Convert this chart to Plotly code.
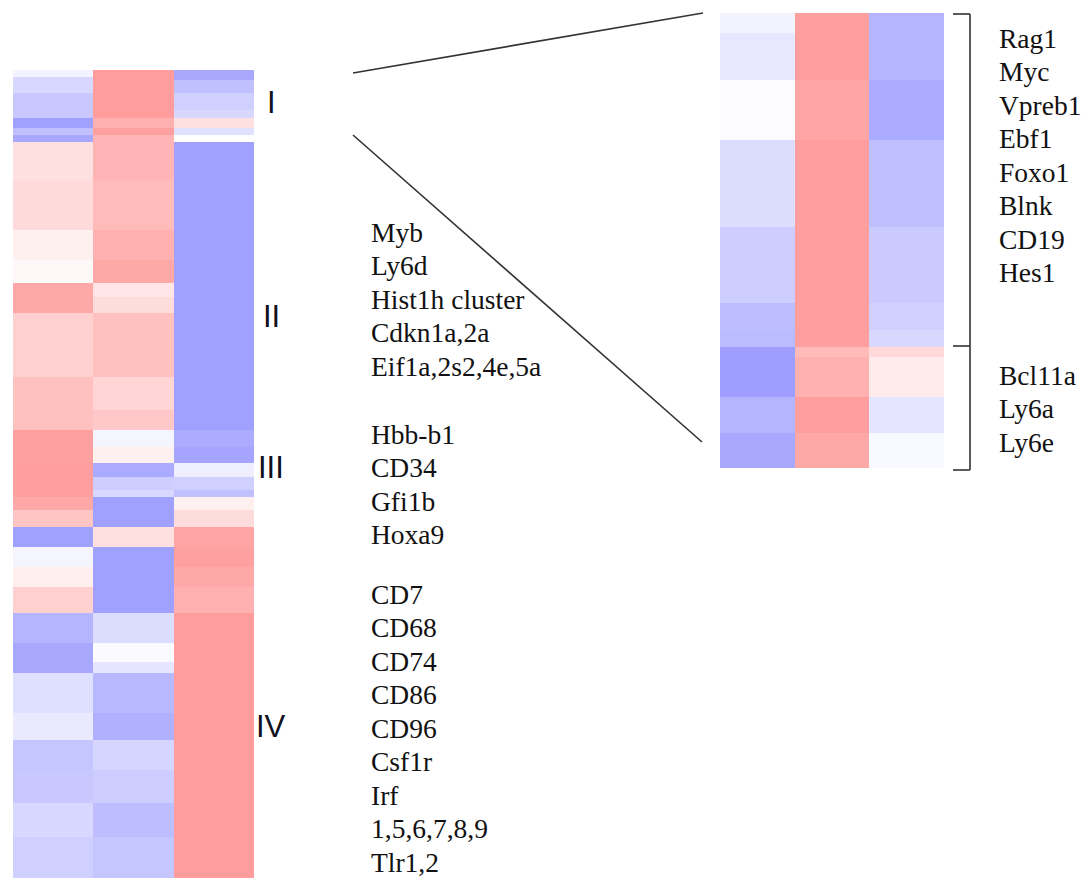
import numpy as np
import plotly.graph_objects as go

W, H = 1089, 878

# ---- Expression data (relative, -1 = low / blue, +1 = high / red) ----
# Main heatmap: row blocks (genes per block) and values for the three samples
main_rows = [7, 3, 13, 17, 8, 10, 7, 7, 38, 50, 30, 23, 14, 16, 64, 33, 20,
             17, 16, 14, 13, 7, 13, 17, 20, 20, 20, 26, 30, 19, 11, 40, 27,
             30, 33, 34, 41]
main_s1 = [-0.12, -0.39, -0.39, -0.55, -0.55, -0.95, -0.63, -0.87, 0.31, 0.37,
           0.15, 0.07, 0.87, 0.87, 0.47, 0.63, 0.63, 0.95, 0.95, 0.97, 0.97,
           0.97, 0.87, 0.58, -0.95, -0.10, 0.17, 0.47, -0.74, -0.87, -0.87,
           -0.32, -0.21, -0.58, -0.55, -0.39, -0.47]
main_s2 = [0.99, 0.99, 0.99, 0.99, 0.99, 0.79, 0.95, 0.74, 0.74, 0.69, 0.79,
           0.87, 0.26, 0.35, 0.63, 0.42, 0.55, -0.10, 0.15, -0.85, -0.50,
           -0.39, -0.95, -0.95, 0.31, -0.95, -0.95, -0.95, -0.35, -0.04, -0.26,
           -0.71, -0.79, -0.42, -0.51, -0.65, -0.58]
main_s3 = [-0.87, -0.87, -0.63, -0.47, -0.39, 0.31, -0.31, 0.00, -0.95, -0.95,
           -0.95, -0.95, -0.95, -0.95, -0.95, -0.95, -0.95, -0.84, -0.90,
           -0.17, -0.47, -0.63, 0.15, 0.35, 0.90, 0.95, 0.87, 0.79, 0.99, 0.99,
           0.99, 0.99, 0.99, 0.99, 0.99, 0.99, 0.99]

# Cluster I detail heatmap
zoom_rows = [20, 47, 60, 87, 76, 27, 17, 10, 40, 36, 35]
zoom_s1 = [-0.12, -0.24, -0.03, -0.35, -0.50, -0.66, -0.68, -0.97, -0.97, -0.74, -0.87]
zoom_s2 = [0.97, 0.97, 0.90, 0.97, 0.97, 0.97, 0.97, 0.69, 0.79, 0.97, 0.87]
zoom_s3 = [-0.74, -0.74, -0.84, -0.64, -0.53, -0.47, -0.39, 0.39, 0.20, -0.26, -0.07]

# ---- Labels ----
clusters = ["I", "II", "III", "IV"]
genes_ii = ["Myb", "Ly6d", "Hist1h cluster", "Cdkn1a,2a", "Eif1a,2s2,4e,5a"]
genes_iii = ["Hbb-b1", "CD34", "Gfi1b", "Hoxa9"]
genes_iv = ["CD7", "CD68", "CD74", "CD86", "CD96", "Csf1r", "Irf", "1,5,6,7,8,9", "Tlr1,2"]
genes_i_up = ["Rag1", "Myc", "Vpreb1", "Ebf1", "Foxo1", "Blnk", "CD19", "Hes1"]
genes_i_mixed = ["Bcl11a", "Ly6a", "Ly6e"]

colorscale = [[0.0, "rgb(155,155,255)"], [0.5, "rgb(255,255,255)"], [1.0, "rgb(255,155,155)"]]


def heat(rows, s1, s2, s3, xa, ya):
    edges = np.concatenate([[0], np.cumsum(rows)])
    z = np.array([s1, s2, s3]).T
    return go.Heatmap(z=z, x=[0, 1, 2, 3], y=edges, zmin=-1, zmax=1,
                      colorscale=colorscale, showscale=False, hoverinfo="skip",
                      xaxis=xa, yaxis=ya)


fig = go.Figure()
# invisible anchor trace for the pixel-space overlay axes
fig.add_trace(go.Scatter(x=[0, W], y=[0, H], mode="markers",
                         marker=dict(opacity=0), hoverinfo="skip", showlegend=False))
fig.add_trace(heat(main_rows, main_s1, main_s2, main_s3, "x2", "y2"))
fig.add_trace(heat(zoom_rows, zoom_s1, zoom_s2, zoom_s3, "x3", "y3"))

hidden = dict(visible=False, fixedrange=True)


def dom_x(a, b):
    return [a / W, b / W]


def dom_y(top, bottom):
    return [1 - bottom / H, 1 - top / H]


fig.update_layout(
    width=W, height=H,
    margin=dict(l=0, r=0, t=0, b=0),
    paper_bgcolor="white", plot_bgcolor="rgba(0,0,0,0)",
    showlegend=False,
    xaxis=dict(domain=[0, 1], range=[0, W], **hidden),
    yaxis=dict(domain=[0, 1], range=[H, 0], **hidden),
    xaxis2=dict(domain=dom_x(13, 254), range=[0, 3], anchor="y2", **hidden),
    yaxis2=dict(domain=dom_y(70, 878), range=[sum(main_rows), 0], anchor="x2", **hidden),
    xaxis3=dict(domain=dom_x(720, 944), range=[0, 3], anchor="y3", **hidden),
    yaxis3=dict(domain=dom_y(13, 468), range=[sum(zoom_rows), 0], anchor="x3", **hidden),
)

line_style = dict(color="#333333", width=1.6)
shapes = [
    # lines linking cluster I to its detail view
    dict(type="line", x0=353, y0=73, x1=703, y1=13),
    dict(type="line", x0=353, y0=135, x1=702, y1=442),
    # brackets
    dict(type="line", x0=953, y0=14, x1=970, y1=14),
    dict(type="line", x0=970, y0=14, x1=970, y1=470),
    dict(type="line", x0=953, y0=346, x1=970, y1=346),
    dict(type="line", x0=953, y0=470, x1=970, y1=470),
]
for s in shapes:
    s.update(xref="x", yref="y", line=line_style, layer="above")
fig.update_layout(shapes=shapes)

serif = dict(family="Liberation Serif, Times New Roman, serif", size=27.5, color="#111111")
sans = dict(family="Liberation Sans, Arial, sans-serif", size=31, color="#111122")
step = 33.5

anns = []
for lab, yc in zip(clusters, [102, 316, 467, 726]):
    anns.append(dict(x=271, y=yc, text=lab, font=sans, xanchor="center", yanchor="middle"))
for group, x0, y0 in [(genes_ii, 369, 232), (genes_iii, 369, 434), (genes_iv, 369, 594),
                      (genes_i_up, 997, 38), (genes_i_mixed, 997, 375)]:
    for i, g in enumerate(group):
        anns.append(dict(x=x0, y=y0 + i * step, text=g, font=serif,
                         xanchor="left", yanchor="middle"))
for a in anns:
    a.update(xref="x", yref="y", showarrow=False)
fig.update_layout(annotations=anns)

fig.write_html("out.html")
